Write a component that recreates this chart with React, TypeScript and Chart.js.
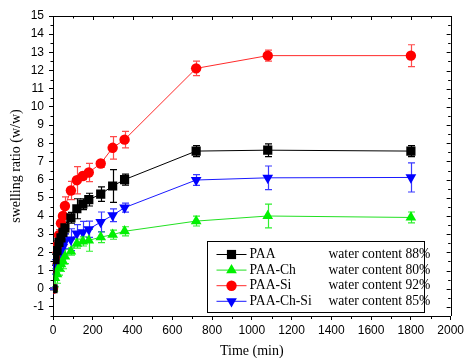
import React, { useEffect, useRef } from 'react';
import { Chart, registerables } from 'chart.js';
Chart.register(...registerables);

const times = [0, 10, 20, 30, 40, 50, 60, 90, 120, 150, 180, 240, 300, 360, 720, 1080, 1800];
const seriesNames = ['PAA', 'PAA-Ch', 'PAA-Si', 'PAA-Ch-Si'];
const waterContent = ['water content 88%', 'water content 80%', 'water content 92%', 'water content 85%'];

const paa = [0, 1.6, 2.1, 2.55, 2.8, 3.1, 3.35, 3.9, 4.4, 4.65, 4.9, 5.2, 5.65, 6.0, 7.57, 7.62, 7.57];
const paaErr = [0.05, 0.3, 0.3, 0.3, 0.3, 0.3, 0.3, 0.3, 0.55, 0.3, 0.35, 0.4, 0.9, 0.3, 0.3, 0.35, 0.3];
const paaCh = [0, 0.6, 0.8, 1.15, 1.35, 1.5, 1.78, 2.05, 2.48, 2.6, 2.66, 2.84, 2.97, 3.16, 3.72, 4.0, 3.92];
const paaChErr = [0.05, 0.5, 0.5, 0.4, 0.4, 0.4, 0.4, 0.2, 0.25, 0.25, 0.6, 0.3, 0.25, 0.25, 0.27, 0.65, 0.3];
const paaSi = [0, 1.7, 2.35, 2.95, 3.6, 4.0, 4.55, 5.4, 5.97, 6.2, 6.39, 6.89, 7.75, 8.2, 12.12, 12.82, 12.82];
const paaSiErr = [0.05, 0.3, 0.3, 0.3, 0.4, 0.5, 0.5, 0.5, 0.75, 0.2, 0.5, 0.2, 0.62, 0.45, 0.4, 0.3, 0.6];
const paaChSi = [0, 1.2, 1.6, 1.9, 2.1, 2.3, 2.6, 2.7, 3.03, 3.1, 3.27, 3.67, 4.04, 4.46, 5.98, 6.1, 6.12];
const paaChSiErr = [0.05, 0.4, 0.4, 0.4, 0.4, 0.4, 0.4, 0.6, 0.5, 0.6, 0.45, 0.55, 0.35, 0.25, 0.3, 0.65, 0.8];

const xTickValues = [0, 200, 400, 600, 800, 1000, 1200, 1400, 1600, 1800, 2000];
const yTickValues = [-1, 0, 1, 2, 3, 4, 5, 6, 7, 8, 9, 10, 11, 12, 13, 14, 15];

const seriesValues = [paa, paaCh, paaSi, paaChSi];
const seriesErrors = [paaErr, paaChErr, paaSiErr, paaChSiErr];
const markerColors = ['#000000', '#00f000', '#ff0000', '#0000ff'];
const lineColors = ['#000000', '#22e022', '#ff2a2a', '#1a1aff'];
const errColors = ['#000000', '#30f030', '#ff4a4a', '#3a3aff'];
const pointStyles = ['rect', 'triangle', 'circle', 'triangle'];
const pointRotations = [0, 0, 0, 180];
const pointRadii = [6.5, 6.2, 5.2, 6.2];

function drawMarker(ctx: CanvasRenderingContext2D, i: number, x: number, y: number) {
  ctx.save();
  ctx.fillStyle = markerColors[i];
  ctx.beginPath();
  const r = pointRadii[i];
  if (i === 0) {
    const s = r * Math.SQRT1_2;
    ctx.rect(x - s, y - s, 2 * s, 2 * s);
  } else if (i === 2) {
    ctx.arc(x, y, r, 0, Math.PI * 2);
  } else {
    const dir = i === 3 ? -1 : 1;
    ctx.moveTo(x, y - dir * r);
    ctx.lineTo(x + r * Math.sin(Math.PI / 3), y + dir * r * 0.5);
    ctx.lineTo(x - r * Math.sin(Math.PI / 3), y + dir * r * 0.5);
    ctx.closePath();
  }
  ctx.fill();
  ctx.restore();
}

const decor = {
  id: 'decor',
  beforeDatasetsDraw(chart: any) {
    const ctx = chart.ctx as CanvasRenderingContext2D;
    const xs = chart.scales.x;
    const ys = chart.scales.y;
    chart.data.datasets.forEach((ds: any, i: number) => {
      const errs = seriesErrors[i];
      ctx.save();
      ctx.strokeStyle = errColors[i];
      ctx.lineWidth = 1.2;
      ds.data.forEach((p: any, j: number) => {
        const x = Math.round(xs.getPixelForValue(p.x)) + 0.5;
        const y1 = ys.getPixelForValue(p.y + errs[j]);
        const y2 = ys.getPixelForValue(p.y - errs[j]);
        ctx.beginPath();
        ctx.moveTo(x, y1);
        ctx.lineTo(x, y2);
        ctx.moveTo(x - 3.5, y1);
        ctx.lineTo(x + 3.5, y1);
        ctx.moveTo(x - 3.5, y2);
        ctx.lineTo(x + 3.5, y2);
        ctx.stroke();
      });
      ctx.restore();
    });
  },
  afterDraw(chart: any) {
    const ctx = chart.ctx as CanvasRenderingContext2D;
    const { left, right, top, bottom } = chart.chartArea;
    const xs = chart.scales.x;
    const ys = chart.scales.y;
    ctx.save();
    ctx.strokeStyle = '#000';
    ctx.lineWidth = 1;
    ctx.beginPath();
    ctx.moveTo(left, Math.round(top) + 0.5);
    ctx.lineTo(Math.round(right) + 0.5, Math.round(top) + 0.5);
    ctx.lineTo(Math.round(right) + 0.5, bottom);
    ctx.stroke();
    ctx.beginPath();
    for (let v = -1.5; v <= 15.001; v += 0.5) {
      const y = Math.round(ys.getPixelForValue(v)) + 0.5;
      const major = Math.abs(v - Math.round(v)) < 1e-6;
      if (!major) {
        ctx.moveTo(left - 2.5, y);
        ctx.lineTo(left, y);
      }
      ctx.moveTo(right, y);
      ctx.lineTo(right - (major ? 4 : 2.5), y);
    }
    for (let v = 0; v <= 2000; v += 100) {
      const x = Math.round(xs.getPixelForValue(v)) + 0.5;
      const major = v % 200 === 0;
      if (!major) {
        ctx.moveTo(x, bottom);
        ctx.lineTo(x, bottom + 3);
      }
      ctx.moveTo(x, top);
      ctx.lineTo(x, top + (major ? 4 : 2.5));
    }
    ctx.stroke();

    const bx = Math.round(right) - 243.5;
    const by = Math.round(bottom) - 74.5;
    const bw = 217;
    const bh = 71;
    ctx.fillStyle = '#fff';
    ctx.fillRect(bx, by, bw, bh);
    ctx.strokeStyle = '#000';
    ctx.lineWidth = 1;
    ctx.strokeRect(bx, by, bw, bh);
    ctx.font = '13.6px "Liberation Serif", "Times New Roman", serif';
    ctx.textBaseline = 'middle';
    ctx.textAlign = 'left';
    seriesNames.forEach((name, i) => {
      const y = by + 13 + i * 15.6;
      ctx.strokeStyle = lineColors[i];
      ctx.beginPath();
      ctx.moveTo(bx + 9, y);
      ctx.lineTo(bx + 39, y);
      ctx.stroke();
      drawMarker(ctx, i, bx + 24, y);
      ctx.fillStyle = '#000';
      ctx.fillText(name, bx + 42, y);
      ctx.fillText(waterContent[i], bx + 121, y);
    });
    ctx.restore();
  },
};

export default function App() {
  const ref = useRef<HTMLCanvasElement | null>(null);
  useEffect(() => {
    if (!ref.current) return;
    const chart = new Chart(ref.current, {
      type: 'line',
      data: {
        datasets: seriesNames.map((name, i) => ({
          label: name,
          data: times.map((t, j) => ({ x: t, y: seriesValues[i][j] })),
          borderColor: lineColors[i],
          backgroundColor: markerColors[i],
          borderWidth: 1,
          pointStyle: pointStyles[i] as any,
          pointRotation: pointRotations[i],
          pointRadius: pointRadii[i],
          pointBorderWidth: 0,
          pointBackgroundColor: markerColors[i],
          pointBorderColor: markerColors[i],
          tension: 0,
        })),
      },
      options: {
        animation: false,
        responsive: false,
        devicePixelRatio: 1,
        layout: { padding: { top: 16, right: 11, left: 0, bottom: 0 } },
        plugins: { legend: { display: false }, tooltip: { enabled: false } },
        scales: {
          x: {
            type: 'linear',
            min: 0,
            max: 2000,
            afterFit: (s: any) => { s.height = 42; },
            afterBuildTicks: (s: any) => { s.ticks = xTickValues.map((v) => ({ value: v })); },
            grid: { drawOnChartArea: false, drawTicks: true, tickLength: 4, color: '#000' },
            border: { display: true, color: '#000', width: 1 },
            ticks: {
              padding: 3,
              color: '#000',
              font: { family: '"Liberation Sans", Arial, sans-serif', size: 12 },
              maxRotation: 0,
              autoSkip: false,
              callback: (v: any) => String(v),
            },
            title: {
              display: true,
              text: 'Time (min)',
              color: '#000',
              font: { family: '"Liberation Serif", "Times New Roman", serif', size: 14, lineHeight: 1 },
              padding: { top: 0, bottom: 0 },
            },
          },
          y: {
            type: 'linear',
            min: -1.5,
            max: 15,
            afterFit: (s: any) => { s.width = 53; },
            afterBuildTicks: (s: any) => { s.ticks = yTickValues.map((v) => ({ value: v })); },
            grid: { drawOnChartArea: false, drawTicks: true, tickLength: 4, color: '#000' },
            border: { display: true, color: '#000', width: 1 },
            ticks: {
              padding: 5,
              color: '#000',
              font: { family: '"Liberation Sans", Arial, sans-serif', size: 12 },
              autoSkip: false,
              callback: (v: any) => String(v),
            },
            title: {
              display: true,
              text: 'swelling ratio (w/w)',
              color: '#000',
              font: { family: '"Liberation Serif", "Times New Roman", serif', size: 14, lineHeight: 1 },
              padding: { top: 9, bottom: 0 },
            },
          },
        },
      },
      plugins: [decor],
    });
    return () => chart.destroy();
  }, []);
  return (
    <div style={{ position: 'absolute', left: 0, top: 0, width: 467, height: 358, background: '#fff' }}>
      <canvas ref={ref} width={467} height={358} style={{ display: 'block' }} />
    </div>
  );
}
